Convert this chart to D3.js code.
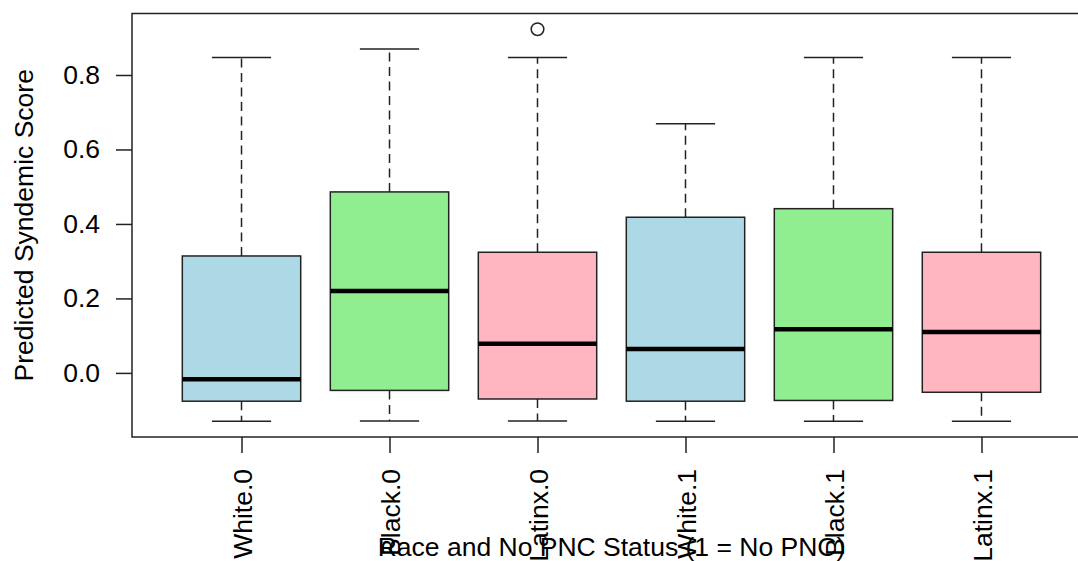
<!DOCTYPE html>
<html>
  <head>
    <meta charset="UTF-8">
    <style>
      body {
        margin: 0;
        font-family: "Liberation Sans", Arial, Helvetica, sans-serif;
        background: white;
      }
      svg {
        display: block;
      }
    </style>
    <script type="text/javascript" src="https://cdn.jsdelivr.net/npm/d3@7"></script>
  </head>

  <body>
    <svg id="Boxplot"></svg>

    <script type="text/javascript">
      // values
      let groups = ['White.0', 'Black.0', 'Latinx.0', 'White.1', 'Black.1', 'Latinx.1'];
      let lowerWhisker = [-0.130, -0.129, -0.129, -0.130, -0.130, -0.130];
      let lowerHinge = [-0.076, -0.047, -0.070, -0.076, -0.074, -0.052];
      let medians = [-0.017, 0.220, 0.078, 0.064, 0.117, 0.110];
      let upperHinge = [0.314, 0.486, 0.324, 0.418, 0.441, 0.324];
      let upperWhisker = [0.847, 0.870, 0.847, 0.669, 0.847, 0.847];
      let outliers = [[], [], [0.923], [], [], []];
      let fills = ['#ADD8E6', '#90EE90', '#FFB6C1', '#ADD8E6', '#90EE90', '#FFB6C1'];
      let yTicks = [0.0, 0.2, 0.4, 0.6, 0.8];

      let yTitle = 'Predicted Syndemic Score';
      let xTitle = 'Race and No PNC Status (1 = No PNC)';

      let fontSize = '26.5px';

      function getConfig() {
        let width = 1078;
        let height = 561;
        // the right side of the plot frame runs off the picture
        let margin = {left: 132, right: -13, top: 13.5, bottom: 124};
        let bodyWidth = width - margin.left - margin.right;
        let bodyHeight = height - margin.top - margin.bottom;
        let container = d3.select('#Boxplot')
          .attr('width', width)
          .attr('height', height);
        return {width, height, margin, bodyWidth, bodyHeight, container};
      }

      function getScales(config) {
        let {margin, bodyWidth, bodyHeight} = config;
        let n = groups.length;
        // R style: 4% padding around the data range
        let xPad = 0.04 * n;
        let xScale = d3.scaleLinear()
          .domain([0.5 - xPad, n + 0.5 + xPad])
          .range([margin.left, margin.left + bodyWidth]);

        let allValues = lowerWhisker.concat(upperWhisker, outliers.flat());
        let lo = d3.min(allValues);
        let hi = d3.max(allValues);
        let yPad = 0.04 * (hi - lo);
        let yScale = d3.scaleLinear()
          .domain([lo - yPad, hi + yPad])
          .range([margin.top + bodyHeight, margin.top]);
        return {xScale, yScale};
      }

      function drawBoxes(config, scales) {
        let {container} = config;
        let {xScale, yScale} = scales;
        let boxWidth = (xScale(2) - xScale(1)) * 0.8;
        let capWidth = boxWidth / 2;

        let data = groups.map((g, i) => ({
          name: g,
          pos: i + 1,
          lw: lowerWhisker[i],
          q1: lowerHinge[i],
          med: medians[i],
          q3: upperHinge[i],
          uw: upperWhisker[i],
          out: outliers[i],
          fill: fills[i]
        }));

        let box = container.append('g').selectAll('g')
          .data(data)
          .enter()
          .append('g');

        // dashed whiskers
        box.append('line')
          .attr('x1', d => xScale(d.pos))
          .attr('x2', d => xScale(d.pos))
          .attr('y1', d => yScale(d.q3))
          .attr('y2', d => yScale(d.uw))
          .attr('stroke', '#222')
          .attr('stroke-width', 1.5)
          .attr('stroke-dasharray', '9,5.5');
        box.append('line')
          .attr('x1', d => xScale(d.pos))
          .attr('x2', d => xScale(d.pos))
          .attr('y1', d => yScale(d.q1))
          .attr('y2', d => yScale(d.lw))
          .attr('stroke', '#222')
          .attr('stroke-width', 1.5)
          .attr('stroke-dasharray', '9,5.5');

        // caps
        ['uw', 'lw'].forEach(k => {
          box.append('line')
            .attr('x1', d => xScale(d.pos) - capWidth / 2)
            .attr('x2', d => xScale(d.pos) + capWidth / 2)
            .attr('y1', d => yScale(d[k]))
            .attr('y2', d => yScale(d[k]))
            .attr('stroke', '#222')
            .attr('stroke-width', 1.5);
        });

        box.append('rect')
          .attr('x', d => xScale(d.pos) - boxWidth / 2)
          .attr('width', boxWidth)
          .attr('y', d => yScale(d.q3))
          .attr('height', d => yScale(d.q1) - yScale(d.q3))
          .attr('fill', d => d.fill)
          .attr('stroke', '#222')
          .attr('stroke-width', 1.5);

        box.append('line')
          .attr('x1', d => xScale(d.pos) - boxWidth / 2)
          .attr('x2', d => xScale(d.pos) + boxWidth / 2)
          .attr('y1', d => yScale(d.med))
          .attr('y2', d => yScale(d.med))
          .attr('stroke', 'black')
          .attr('stroke-width', 4.5);

        box.selectAll('circle')
          .data(d => d.out.map(v => ({pos: d.pos, v})))
          .enter()
          .append('circle')
          .attr('cx', d => xScale(d.pos))
          .attr('cy', d => yScale(d.v))
          .attr('r', 6.3)
          .attr('fill', 'none')
          .attr('stroke', '#222')
          .attr('stroke-width', 1.5);
      }

      function drawAxes(config, scales) {
        let {container, margin, bodyWidth, bodyHeight, height} = config;
        let {xScale, yScale} = scales;

        let axisY = d3.axisLeft(yScale)
          .tickValues(yTicks)
          .tickFormat(d3.format('.1f'))
          .tickSize(16)
          .tickPadding(16);
        let gy = container.append('g')
          .attr('transform', `translate(${margin.left}, 0)`)
          .call(axisY);
        gy.select('.domain').remove();

        let axisX = d3.axisBottom(xScale)
          .tickValues(d3.range(1, groups.length + 1))
          .tickFormat(d => groups[d - 1])
          .tickSize(16);
        let gx = container.append('g')
          .attr('transform', `translate(0, ${margin.top + bodyHeight})`)
          .call(axisX);
        gx.select('.domain').remove();
        gx.selectAll('text')
          .attr('transform', 'rotate(-90)')
          .attr('text-anchor', 'end')
          .attr('x', -32)
          .attr('y', 0)
          .attr('dy', '0.36em');

        [gx, gy].forEach(g => {
          g.selectAll('line').attr('stroke', '#222').attr('stroke-width', 1.5);
          g.selectAll('text')
            .attr('fill', 'black')
            .style('font-size', fontSize)
            .style('font-family', '"Liberation Sans", Arial, sans-serif');
        });

        // plot frame
        container.append('rect')
          .attr('x', margin.left)
          .attr('y', margin.top)
          .attr('width', bodyWidth)
          .attr('height', bodyHeight)
          .attr('fill', 'none')
          .attr('stroke', '#222')
          .attr('stroke-width', 1.5);

        container.append('text')
          .attr('transform', `translate(33, ${margin.top + bodyHeight / 2}) rotate(-90)`)
          .attr('text-anchor', 'middle')
          .style('font-size', fontSize)
          .text(yTitle);

        container.append('text')
          .attr('x', margin.left + bodyWidth / 2)
          .attr('y', height - 5)
          .attr('text-anchor', 'middle')
          .style('font-size', fontSize)
          .text(xTitle);
      }

      let config = getConfig();
      let scales = getScales(config);
      drawBoxes(config, scales);
      drawAxes(config, scales);
    </script>
  </body>
</html>
